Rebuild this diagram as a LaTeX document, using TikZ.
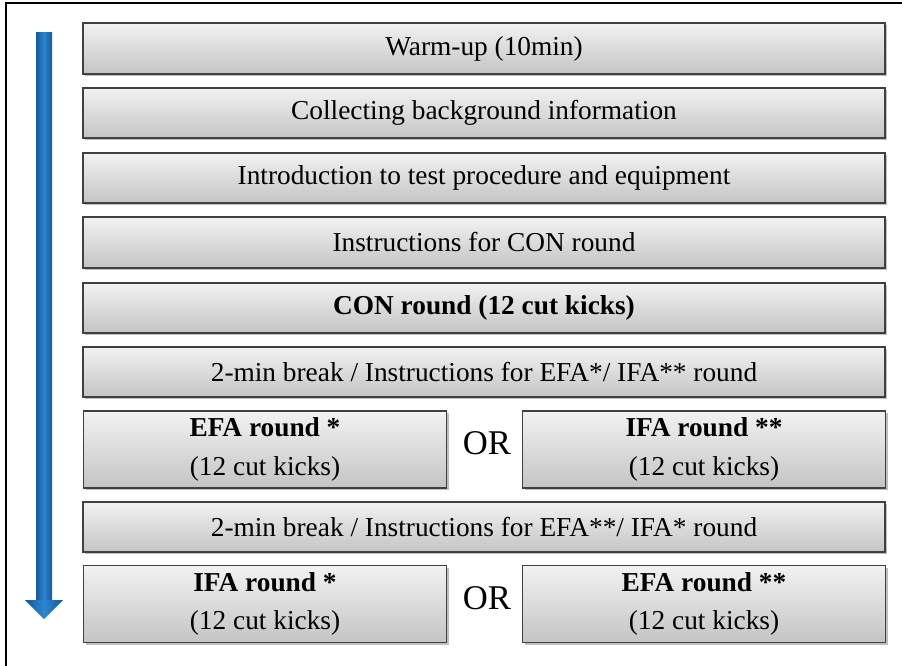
\documentclass[tikz,border=0pt]{standalone}
\usepackage{fontspec}
\setmainfont{Liberation Serif}
\usetikzlibrary{shadows}
\definecolor{boxtop}{HTML}{F2F2F2}
\definecolor{boxbot}{HTML}{C4C4C4}
\definecolor{boxline}{HTML}{404040}
\definecolor{arrowdark}{HTML}{14599B}
\definecolor{arrowlight}{HTML}{2E86D0}
\tikzset{
  stepbox/.style={draw=boxline, line width=1.3pt, top color=boxtop, bottom color=boxbot,
    drop shadow={shadow xshift=1.5pt, shadow yshift=-1.5pt, fill=black, opacity=0.25},
    inner sep=0pt, align=center, font=\fontsize{20.5}{29}\selectfont},
  wide/.style={stepbox, minimum width=601.5pt, minimum height=38pt},
  half/.style={stepbox, minimum width=272.25pt, minimum height=57.75pt},
  ortext/.style={font=\fontsize{26}{30}\selectfont}
}
\begin{document}
\begin{tikzpicture}[x=0.75pt, y=-0.75pt]
\useasboundingbox (0,0) rectangle (902,666);
\draw[line width=1.1pt] (6,666) -- (6,3) -- (902,3);
% arrow
\coordinate (atop) at (44,33);
\coordinate (abase) at (44,600);
\coordinate (atip) at (44,619);
\shade[left color=arrowdark, right color=arrowdark, middle color=arrowlight]
  (36,33) rectangle (52,601);
\shade[left color=arrowdark, right color=arrowdark, middle color=arrowlight]
  (25,600) -- (63,600) -- (atip) -- cycle;
% boxes
\node[wide] (b1) at (484,48.5) {Warm-up (10min)};
\node[wide] (b2) at (484,113) {Collecting background information};
\node[wide] (b3) at (484,178) {Introduction to test procedure and equipment};
\node[wide] (b4) at (484,242.5) {Instructions for CON round};
\node[wide] (b5) at (484,308) {\textbf{CON round (12 cut kicks)}};
\node[wide] (b6) at (484,372) {2-min break / Instructions for EFA*/ IFA** round};
\node[half] (b7l) at (265,449.5) {\textbf{EFA round *}\\(12 cut kicks)};
\node[ortext] (or1) at (487,443) {OR};
\node[half] (b7r) at (704,449.5) {\textbf{IFA round **}\\(12 cut kicks)};
\node[wide] (b8) at (484,527) {2-min break / Instructions for EFA**/ IFA* round};
\node[half] (b9l) at (265,604) {\textbf{IFA round *}\\(12 cut kicks)};
\node[ortext] (or2) at (487,598) {OR};
\node[half] (b9r) at (704,604) {\textbf{EFA round **}\\(12 cut kicks)};
\end{tikzpicture}
\end{document}
